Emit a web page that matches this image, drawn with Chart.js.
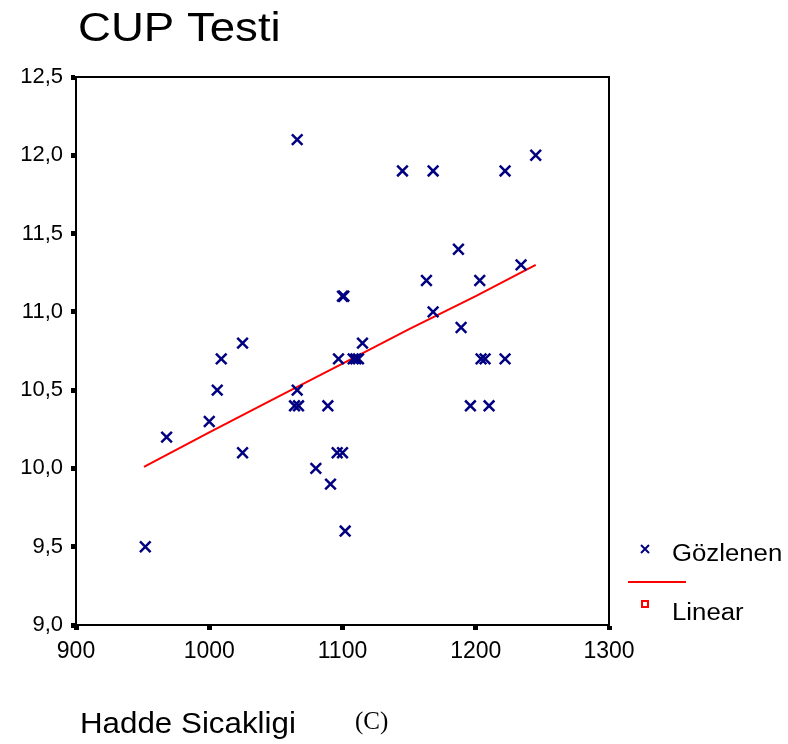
<!DOCTYPE html>
<html>
<head>
<meta charset="utf-8">
<script src="https://cdn.jsdelivr.net/npm/chart.js@4"></script>
<style>
  html, body { margin: 0; padding: 0; background: #fff; }
  #wrap { width: 788px; height: 744px; position: relative; }
</style>
</head>
<body>
<div id="wrap"><canvas id="cupChart" width="788" height="744"></canvas></div>
<script>
// observed values (Hadde Sicakligi vs CUP Testi)
const obsX = [1066, 1145, 1168, 1222, 1245, 1187, 1234, 1163, 1203, 1100, 1101, 1168, 1189,
  1115, 1025, 1009, 1097, 1108, 1110, 1112, 1204, 1207, 1222, 1006, 1066, 1064, 1067, 1089,
  1196, 1210, 1000, 968, 1025, 1096, 1100, 1080, 1091, 1102, 952];
const obsY = [12.1, 11.9, 11.9, 11.9, 12.0, 11.4, 11.3, 11.2, 11.2, 11.1, 11.1, 11.0, 10.9,
  10.8, 10.8, 10.7, 10.7, 10.7, 10.7, 10.7, 10.7, 10.7, 10.7, 10.5, 10.5, 10.4, 10.4, 10.4,
  10.4, 10.4, 10.3, 10.2, 10.1, 10.1, 10.1, 10.0, 9.9, 9.6, 9.5];

// linear fit
const fitX = [951, 1000, 1050, 1100, 1150, 1200, 1245];
const fitY = [10.01, 10.23, 10.45, 10.67, 10.89, 11.10, 11.30];

const xTicks = [900, 1000, 1100, 1200, 1300];
const yTicks = [9.0, 9.5, 10.0, 10.5, 11.0, 11.5, 12.0, 12.5];

const navy = '#000080';
const red = '#ff0000';
const font = '"Liberation Sans", Arial, sans-serif';

// title, frame, legend and axis title
const extras = {
  id: 'extras',
  afterDraw(chart) {
    const ctx = chart.ctx;
    const a = chart.chartArea;
    ctx.save();
    ctx.strokeStyle = '#000';
    ctx.lineWidth = 2;
    ctx.strokeRect(a.left, a.top, a.right - a.left, a.bottom - a.top);

    const stretchText = (txt, x, y, f, sx) => {
      ctx.save();
      ctx.font = f;
      ctx.translate(x, y);
      ctx.scale(sx, 1);
      ctx.fillText(txt, 0, 0);
      ctx.restore();
    };
    ctx.fillStyle = '#000';
    ctx.textBaseline = 'alphabetic';
    ctx.textAlign = 'left';
    stretchText('CUP Testi', 78, 41, '40px ' + font, 1.14);
    stretchText('Hadde Sicakligi', 80, 733, '29px ' + font, 1.08);
    stretchText('(C)', 355, 729, '25px "Liberation Serif", "Times New Roman", serif', 1.0);

    // legend
    ctx.strokeStyle = navy;
    ctx.lineWidth = 2;
    ctx.beginPath();
    ctx.moveTo(641, 545); ctx.lineTo(649, 553);
    ctx.moveTo(649, 545); ctx.lineTo(641, 553);
    ctx.stroke();
    stretchText('Gözlenen', 672, 561, '23px ' + font, 1.12);
    ctx.strokeStyle = red;
    ctx.beginPath();
    ctx.moveTo(628, 582); ctx.lineTo(686, 582);
    ctx.stroke();
    ctx.strokeRect(642, 601, 6, 6);
    stretchText('Linear', 672, 620, '23px ' + font, 1.12);
    ctx.restore();
  }
};

const fmtY = v => v.toFixed(1).replace('.', ',');

new Chart(document.getElementById('cupChart'), {
  type: 'scatter',
  data: {
    datasets: [
      {
        label: 'Gözlenen',
        data: obsX.map((x, i) => ({x, y: obsY[i]})),
        pointStyle: 'crossRot',
        pointRadius: 7.5,
        pointBorderWidth: 2.5,
        borderColor: navy,
        backgroundColor: navy
      },
      {
        label: 'Linear',
        data: fitX.map((x, i) => ({x, y: fitY[i]})),
        showLine: true,
        borderColor: red,
        borderWidth: 2,
        pointRadius: 0
      }
    ]
  },
  options: {
    responsive: false,
    animation: false,
    layout: { padding: { left: 0, top: 77, right: 179, bottom: 79 } },
    plugins: { legend: { display: false }, tooltip: { enabled: false } },
    scales: {
      x: {
        type: 'linear',
        min: 900, max: 1300,
        afterFit: s => { s.height = 40; },
        afterBuildTicks: s => { s.ticks = xTicks.map(v => ({value: v})); },
        border: { display: true, color: '#000', width: 2 },
        grid: { drawOnChartArea: false, drawTicks: true, tickLength: 5, tickWidth: 5, tickColor: '#000' },
        ticks: { color: '#000', font: { family: font, size: 23 }, padding: 8, maxRotation: 0, callback: v => String(v) }
      },
      y: {
        type: 'linear',
        min: 9, max: 12.5,
        afterFit: s => { s.width = 76; },
        afterBuildTicks: s => { s.ticks = yTicks.map(v => ({value: v})); },
        border: { display: true, color: '#000', width: 2 },
        grid: { drawOnChartArea: false, drawTicks: true, tickLength: 5, tickWidth: 5, tickColor: '#000' },
        ticks: { color: '#000', font: { family: font, size: 22 }, padding: 8, callback: v => fmtY(v) }
      }
    }
  },
  plugins: [extras]
});
</script>
</body>
</html>
